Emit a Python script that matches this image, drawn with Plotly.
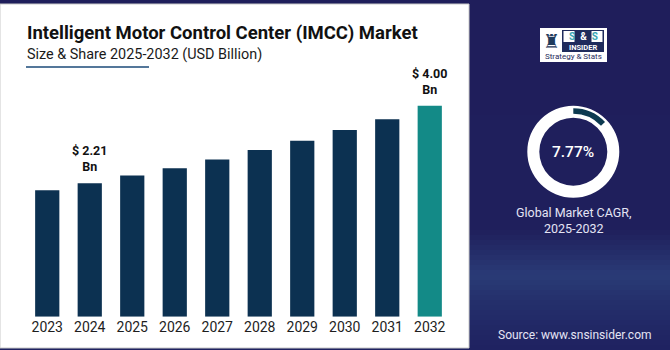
import plotly.graph_objects as go

W, H = 670, 350

# ---- data ----
years = ["2023", "2024", "2025", "2026", "2027", "2028", "2029", "2030", "2031", "2032"]
market_size = [2.05, 2.21, 2.39, 2.56, 2.76, 2.98, 3.19, 3.44, 3.69, 4.00]
labelled_years = ["2024", "2032"]
cagr_text = "7.77%"
cagr_arc = [13, 87]

title_text = "Intelligent Motor Control Center (IMCC) Market"
subtitle_text = "Size & Share 2025-2032 (USD Billion)"
cagr_caption = "Global Market CAGR,<br>2025-2032"
source_text = "Source: www.snsinsider.com"

# ---- style ----
NAVY_BG = "#1f1e5b"
BAR = "#0c3151"
BAR_LAST = "#138a87"
BAR_BASE = -0.867
FONT = "Roboto"


def fx(px):
    return px / W


def fy(py):
    return 1 - py / H


colors = [BAR] * (len(years) - 1) + [BAR_LAST]

fig = go.Figure()
fig.add_trace(go.Bar(
    x=years, y=[v - BAR_BASE for v in market_size], base=BAR_BASE,
    marker=dict(color=colors, line=dict(width=0)),
    hoverinfo="skip", showlegend=False,
))

# ring (white) and arc
cx, cy = 573.3, 151.7
R1, r1 = 46, 34
R2, r2 = 43.5, 38
fig.add_trace(go.Pie(
    values=[1], marker=dict(colors=["#ffffff"], line=dict(width=0)),
    hole=r1 / R1, textinfo="none", hoverinfo="skip", sort=False, showlegend=False,
    domain=dict(x=[fx(cx - R1), fx(cx + R1)], y=[fy(cy + R1), fy(cy - R1)]),
))
fig.add_trace(go.Pie(
    values=cagr_arc, marker=dict(colors=["#0d3a50", "rgba(0,0,0,0)"], line=dict(width=0)),
    hole=r2 / R2, textinfo="none", hoverinfo="skip", sort=False, showlegend=False,
    direction="clockwise", rotation=0,
    domain=dict(x=[fx(cx - R2), fx(cx + R2)], y=[fy(cy + R2), fy(cy - R2)]),
))

shapes = []


def rect(x0, y0, x1, y1, color, line=None, layer="below"):
    d = dict(type="rect", xref="paper", yref="paper",
             x0=fx(x0), x1=fx(x1), y0=fy(y1), y1=fy(y0),
             fillcolor=color, layer=layer, line=dict(width=0))
    if line:
        d["line"] = line
    shapes.append(d)


# background gradient on right panel
def lerp(c1, c2, t):
    a = [int(c1[i:i + 2], 16) for i in (1, 3, 5)]
    b = [int(c2[i:i + 2], 16) for i in (1, 3, 5)]
    return "#%02x%02x%02x" % tuple(round(a[k] + (b[k] - a[k]) * t) for k in range(3))


stops = [(0, "#1f1e5b"), (230, "#1f1f5c"), (275, "#2a3b76"), (300, "#24306c"), (350, "#1f2160")]
for i in range(len(stops) - 1):
    y0, c0 = stops[i]
    y1, c1 = stops[i + 1]
    n = max(1, (y1 - y0) // 5)
    for k in range(n):
        ya = y0 + (y1 - y0) * k / n
        yb = y0 + (y1 - y0) * (k + 1) / n
        rect(0, ya, W, yb + 0.5, lerp(c0, c1, (k + 0.5) / n))

# white panel
rect(0, 4, 469, 348, "#ffffff", line=dict(width=1, color="#c9c9c9"))
# underline
shapes.append(dict(type="line", xref="paper", yref="paper", x0=fx(26), x1=fx(149),
                   y0=fy(67), y1=fy(67), line=dict(color="#1b4a78", width=1.5)))
# logo
rect(540, 28, 607, 62, "#ffffff", layer="above")
rect(562, 30, 604, 52, "#1f2b5c", layer="above")
rect(563.5, 31, 574.5, 42, "#ffffff", layer="above")
rect(591.5, 31, 602.5, 42, "#ffffff", layer="above")

annotations = []

for i, (yr, v) in enumerate(zip(years, market_size)):
    if yr in labelled_years:
        annotations.append(dict(
            x=i, y=v, xref="x", yref="y", yanchor="bottom", yshift=8, borderpad=0,
            text="<b>$ %.2f<br>Bn</b>" % v, showarrow=False, align="center",
            font=dict(family=FONT, size=12.5, color="#111111"),
        ))

annotations += [
    dict(x=fx(25), y=fy(20), xref="paper", yref="paper", xanchor="left", yanchor="top",
         text="<b>%s</b>" % title_text, showarrow=False,
         font=dict(family=FONT, size=18.5, color="#111111")),
    dict(x=fx(25), y=fy(44), xref="paper", yref="paper", xanchor="left", yanchor="top",
         text=subtitle_text, showarrow=False,
         font=dict(family=FONT, size=14.4, color="#1a1a1a")),
    dict(x=fx(cx), y=fy(cy), xref="paper", yref="paper", xanchor="center", yanchor="middle",
         text=cagr_text, showarrow=False,
         font=dict(family=FONT, size=15.5, color="#ffffff", weight=500)),
    dict(x=fx(574), y=fy(203), xref="paper", yref="paper", xanchor="center", yanchor="top",
         text=cagr_caption, showarrow=False,
         font=dict(family=FONT, size=12.5, color="#e4e4f4")),
    dict(x=fx(575), y=fy(326), xref="paper", yref="paper", xanchor="center", yanchor="top",
         text=source_text, showarrow=False,
         font=dict(family=FONT, size=12, color="#e4e4f4")),
    # logo texts
    dict(x=fx(583), y=fy(36.5), xref="paper", yref="paper", xanchor="center", yanchor="middle",
         text="<b>S&nbsp;&nbsp;<span style='color:#ffffff'>&amp;</span>&nbsp;&nbsp;S</b>", showarrow=False,
         font=dict(family=FONT, size=10, color="#3aa7b5")),
    dict(x=fx(583), y=fy(47.5), xref="paper", yref="paper", xanchor="center", yanchor="middle",
         text="<b>INSIDER</b>", showarrow=False,
         font=dict(family=FONT, size=7.5, color="#ffffff")),
    dict(x=fx(573.5), y=fy(57), xref="paper", yref="paper", xanchor="center", yanchor="middle",
         text="Strategy &amp; Stats", showarrow=False,
         font=dict(family=FONT, size=8, color="#1f2b5c")),
    dict(x=fx(551.5), y=fy(41), xref="paper", yref="paper", xanchor="center", yanchor="middle",
         text="\u265c", showarrow=False,
         font=dict(family="DejaVu Sans", size=19, color="#1f3b5c")),
]

fig.update_layout(
    width=W, height=H, margin=dict(l=0, r=0, t=0, b=0),
    paper_bgcolor=NAVY_BG, plot_bgcolor="rgba(0,0,0,0)",
    shapes=shapes, annotations=annotations,
    bargap=0.43,
    xaxis=dict(type="category", domain=[fx(26), fx(451)], range=[-0.5, 9.5], showgrid=False,
               zeroline=False, showline=False, ticks="",
               tickfont=dict(family=FONT, size=14, color="#1e1e1e"), fixedrange=True),
    yaxis=dict(domain=[fy(316.7), fy(60)], range=[BAR_BASE, BAR_BASE + (316.7 - 60) / 43.35],
               visible=False, fixedrange=True),
    showlegend=False,
)

fig.write_html("out.html", config={"displayModeBar": False})
